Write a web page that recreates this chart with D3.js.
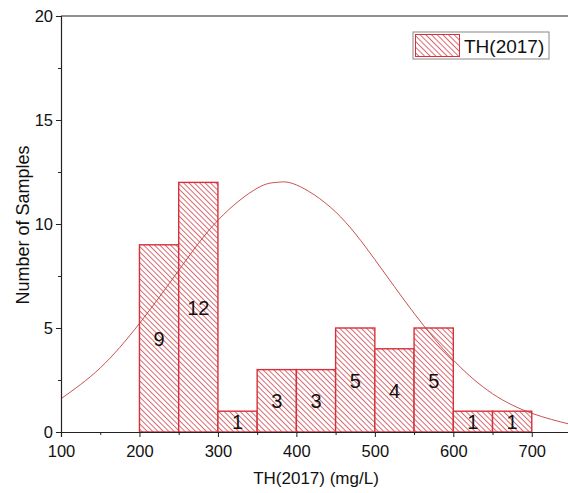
<!DOCTYPE html>
<html><head><meta charset="utf-8">
<script src="https://cdn.jsdelivr.net/npm/d3@7"></script>
<style>body{margin:0;background:#fff}svg{display:block;font-family:"Liberation Sans",Arial,sans-serif}</style>
</head><body><svg id="c" width="568" height="493"></svg>
<script>
const binStarts = [200,250,300,350,400,450,500,550,600,650];
const binWidth = 50;
const counts = [9,12,1,3,3,5,4,5,1,1];
const curveX = [100,150,200,250,300,350,375,400,450,500,550,600,650,700,750];
const curveY = [1.60,3.08,5.22,7.77,10.18,11.72,12.0,11.88,10.58,8.29,5.71,3.46,1.84,0.90,0.36];
const xTicks = [100,200,300,400,500,600,700];
const yTicks = [0,5,10,15,20];
const seriesName = "TH(2017)";

const red = "#d8303a";
const svg = d3.select("#c");
const x = d3.scaleLinear().domain([100,750]).range([61,571]);
const y = d3.scaleLinear().domain([0,20]).range([432,16]);

const defs = svg.append("defs");
function hatch(id, s){
  const pat = defs.append("pattern").attr("id",id).attr("patternUnits","userSpaceOnUse")
    .attr("width",s).attr("height",s).attr("patternTransform","rotate(-45)");
  pat.append("rect").attr("width",s).attr("height",s).attr("fill","#fff");
  pat.append("line").attr("x1",0.5).attr("y1",0).attr("x2",0.5).attr("y2",s).attr("stroke","#cc3a44").attr("stroke-width",0.75);
}
hatch("hatch",3.8);
hatch("hatchL",4);

// bars
svg.append("g").selectAll("rect").data(counts).join("rect")
  .attr("x",(d,i)=>x(binStarts[i])).attr("width",(d,i)=>x(binStarts[i]+binWidth)-x(binStarts[i]))
  .attr("y",d=>y(d)).attr("height",d=>y(0)-y(d))
  .attr("fill","url(#hatch)").attr("stroke",red).attr("stroke-width",1.4);

// curve
const line = d3.line().x((d,i)=>x(curveX[i])).y(d=>y(d)).curve(d3.curveNatural);
svg.append("path").attr("d",line(curveY)).attr("fill","none").attr("stroke","#c0403c").attr("stroke-width",0.9);

// labels
svg.append("g").selectAll("text").data(counts).join("text")
  .attr("x",(d,i)=>x(binStarts[i]+binWidth/2)).attr("y",d=>y(d/2)+7.5)
  .attr("text-anchor","middle").attr("font-size",20).attr("fill","#111").text(d=>d);

// axes
const xAxis = d3.axisBottom(x).tickValues(d3.range(100,751,50)).tickSize(5)
  .tickFormat(d=>xTicks.includes(d)?d:"");
const gx = svg.append("g").attr("transform","translate(0,432)").call(xAxis);
gx.selectAll(".tick line").attr("y2",d=>xTicks.includes(d)?5:3);
const yAxis = d3.axisLeft(y).tickValues(d3.range(0,20.1,2.5)).tickSize(5)
  .tickFormat(d=>yTicks.includes(d)?d:"");
const gy = svg.append("g").attr("transform","translate(61,0)").call(yAxis);
gy.selectAll(".tick line").attr("x2",d=>yTicks.includes(d)?-5:-3);
[gx,gy].forEach(g=>{
  g.select(".domain").attr("stroke","#222").attr("stroke-width",1.2);
  g.selectAll(".tick line").attr("stroke","#222");
  g.selectAll("text").attr("font-size",16.5).attr("fill","#111").attr("font-family","'Liberation Sans',Arial,sans-serif");
});
gx.selectAll("text").attr("dy","1.04em");
// top border
svg.append("line").attr("x1",61).attr("x2",568).attr("y1",16).attr("y2",16).attr("stroke","#222").attr("stroke-width",1.2);

// titles
svg.append("text").attr("x",x(425)).attr("y",484).attr("text-anchor","middle").attr("font-size",17).attr("fill","#111").text("TH(2017) (mg/L)");
svg.append("text").attr("transform","translate(29,225) rotate(-90)").attr("text-anchor","middle").attr("font-size",18).attr("fill","#111").text("Number of Samples");

// legend
const lg = svg.append("g");
lg.append("rect").attr("x",413).attr("y",32).attr("width",136).attr("height",27).attr("fill","#fff").attr("stroke","#888");
lg.append("rect").attr("x",415.5).attr("y",34.5).attr("width",44).attr("height",22).attr("fill","url(#hatchL)").attr("stroke",red).attr("stroke-width",1);
lg.append("text").attr("x",464).attr("y",52.5).attr("font-size",19).attr("fill","#111").text(seriesName);
</script></body></html>
